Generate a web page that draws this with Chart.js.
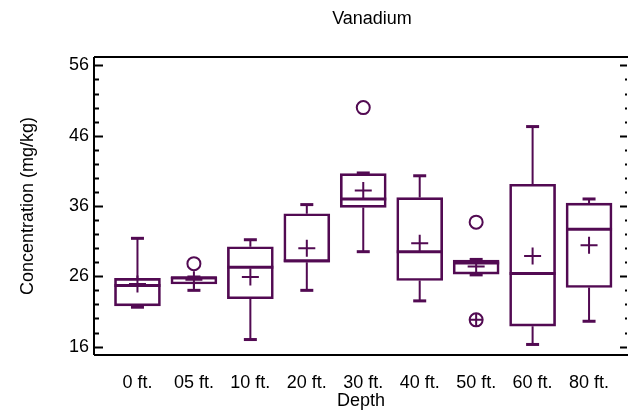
<!DOCTYPE html>
<html>
<head>
<meta charset="utf-8">
<script src="https://cdn.jsdelivr.net/npm/chart.js@4/dist/chart.umd.min.js"></script>
<style>
html, body { margin: 0; padding: 0; background: #fff; }
#wrap { width: 628px; height: 419px; }
</style>
</head>
<body>
<div id="wrap"><canvas id="plot-id" width="628" height="419"></canvas></div>
<script>
// values (mg/kg)
let depths = ['0 ft.', '05 ft.', '10 ft.', '20 ft.', '30 ft.', '40 ft.', '50 ft.', '60 ft.', '80 ft.'];
let whisker_lo = [21.6, 24.0, 17.0, 24.0, 29.5, 22.5, 26.2, 16.3, 19.6];
let box_lo = [21.8, 24.9, 22.8, 28.0, 35.8, 25.4, 26.3, 18.9, 24.4];
let medians = [24.7, 25.8, 27.3, 28.2, 37.0, 29.5, 27.9, 26.4, 32.7];
let box_hi = [25.7, 25.9, 30.2, 34.9, 40.6, 37.2, 28.3, 39.1, 36.4];
let whisker_hi = [31.4, 25.9, 31.2, 36.2, 40.7, 40.3, 28.4, 47.3, 37.0];
let means = [24.9, 25.5, 25.9, 30.0, 38.2, 30.7, 27.4, 28.9, 30.4];
// outside points as [depth index, value]
let outside = [[1, 27.8], [4, 50.0], [6, 33.7]];
let far_outside = [[6, 19.8]];
let y_ticks = [16, 26, 36, 46, 56];

const purple = '#520a52';
const font_family = "'Liberation Sans', Arial, sans-serif";

// whisker stems, broken with nulls between boxes
let stems = [];
for (let i = 0; i < depths.length; i++) {
    stems.push({ x: i, y: box_hi[i] }, { x: i, y: whisker_hi[i] }, { x: i, y: null });
    stems.push({ x: i, y: box_lo[i] }, { x: i, y: whisker_lo[i] }, { x: i, y: null });
}
let caps = [];
for (let i = 0; i < depths.length; i++) {
    caps.push({ x: i, y: whisker_hi[i] }, { x: i, y: whisker_lo[i] });
}

// frame + inside tick marks like the original plot
const framePlugin = {
    id: 'frame',
    afterLayout(chart) {
        // original title sits a bit right of the visible plot centre
        if (chart.titleBlock) {
            chart.titleBlock.left += 11;
            chart.titleBlock.right += 11;
        }
    },
    afterDraw(chart) {
        const ctx = chart.ctx;
        const a = chart.chartArea;
        const ys = chart.scales.y;
        ctx.save();
        ctx.strokeStyle = '#000';
        ctx.lineWidth = 2;
        ctx.beginPath();
        ctx.moveTo(a.left, a.top); ctx.lineTo(a.right, a.top);
        ctx.moveTo(a.left, a.top); ctx.lineTo(a.left, a.bottom);
        ctx.moveTo(a.left, a.bottom); ctx.lineTo(a.right, a.bottom);
        ctx.stroke();
        for (let v = y_ticks[0]; v <= y_ticks[y_ticks.length - 1]; v += 2) {
            const py = Math.round(ys.getPixelForValue(v)) + 0.5;
            const major = y_ticks.includes(v);
            ctx.beginPath();
            ctx.moveTo(a.left, py); ctx.lineTo(a.left + (major ? 9 : 5), py);
            ctx.moveTo(a.right - 1, py); ctx.lineTo(a.right - (major ? 8 : 3), py);
            ctx.stroke();
        }
        ctx.restore();
    }
};

var ctx = document.getElementById('plot-id');
var chart = new Chart(ctx, {
    type: 'scatter',
    data: {
        datasets: [
            {
                label: 'means',
                data: means.map((v, i) => ({ x: i, y: v })),
                pointStyle: 'cross',
                pointRadius: 8.5,
                pointBorderWidth: 2,
                pointBorderColor: purple,
                showLine: false
            },
            {
                label: 'medians',
                data: medians.map((v, i) => ({ x: i, y: v })),
                pointStyle: 'line',
                pointRadius: 23,
                pointBorderWidth: 3,
                pointBorderColor: purple,
                showLine: false
            },
            {
                label: 'outside',
                data: outside.map(p => ({ x: p[0], y: p[1] })),
                pointStyle: 'circle',
                pointRadius: 6.5,
                pointBorderWidth: 2,
                pointBorderColor: purple,
                pointBackgroundColor: 'rgba(0,0,0,0)',
                showLine: false
            },
            {
                label: 'far outside',
                data: far_outside.map(p => ({ x: p[0], y: p[1] })),
                pointStyle: 'circle',
                pointRadius: 6.5,
                pointBorderWidth: 2,
                pointBorderColor: purple,
                pointBackgroundColor: 'rgba(0,0,0,0)',
                showLine: false
            },
            {
                label: 'far outside cross',
                data: far_outside.map(p => ({ x: p[0], y: p[1] })),
                pointStyle: 'cross',
                pointRadius: 6.5,
                pointBorderWidth: 2,
                pointBorderColor: purple,
                showLine: false
            },
            {
                label: 'caps',
                data: caps,
                pointStyle: 'line',
                pointRadius: 6.5,
                pointBorderWidth: 3,
                pointBorderColor: purple,
                showLine: false
            },
            {
                label: 'whiskers',
                type: 'line',
                data: stems,
                borderColor: purple,
                borderWidth: 2,
                pointRadius: 0,
                spanGaps: false,
                fill: false
            },
            {
                label: 'boxes',
                type: 'bar',
                data: box_lo.map((v, i) => ({ x: i, y: [v, box_hi[i]] })),
                backgroundColor: 'rgba(0,0,0,0)',
                borderColor: purple,
                borderWidth: 2,
                borderSkipped: false,
                barThickness: 46
            }
        ]
    },
    options: {
        responsive: false,
        animation: false,
        devicePixelRatio: 1,
        events: [],
        layout: { autoPadding: false, padding: { left: 0, right: 0, top: 0, bottom: 0 } },
        scales: {
            x: {
                type: 'linear',
                offset: false,
                min: -0.77,
                max: 8.69,
                grid: { display: false, drawTicks: false, offset: false },
                border: { display: false },
                afterBuildTicks: (scale) => { scale.ticks = depths.map((_, i) => ({ value: i })); },
                afterFit: (scale) => {
                    scale.height = 64;
                    scale.paddingLeft = 0;
                    scale.paddingRight = 0;
                },
                ticks: {
                    padding: 17,
                    maxRotation: 0,
                    autoSkip: false,
                    color: '#000',
                    font: { family: font_family, size: 18 },
                    callback: (v) => depths[v]
                },
                title: {
                    display: true,
                    text: 'Depth',
                    color: '#000',
                    font: { family: font_family, size: 18 },
                    padding: { top: 0, bottom: 7 }
                }
            },
            y: {
                min: 14.8,
                max: 57.2,
                grid: { display: false, drawTicks: false },
                border: { display: false },
                afterBuildTicks: (scale) => { scale.ticks = y_ticks.map(v => ({ value: v })); },
                afterFit: (scale) => { scale.width = 94; },
                ticks: {
                    padding: 5,
                    color: '#000',
                    font: { family: font_family, size: 18 }
                },
                title: {
                    display: true,
                    text: 'Concentration (mg/kg)',
                    color: '#000',
                    font: { family: font_family, size: 18 },
                    padding: { top: 17, bottom: 0 }
                }
            }
        },
        plugins: {
            legend: { display: false },
            tooltip: { enabled: false },
            title: {
                display: true,
                fullSize: false,
                text: 'Vanadium',
                color: '#000',
                font: { family: font_family, size: 18, weight: 'normal' },
                padding: { top: 8, bottom: 27.4 }
            }
        }
    },
    plugins: [framePlugin]
});
</script>
</body>
</html>
